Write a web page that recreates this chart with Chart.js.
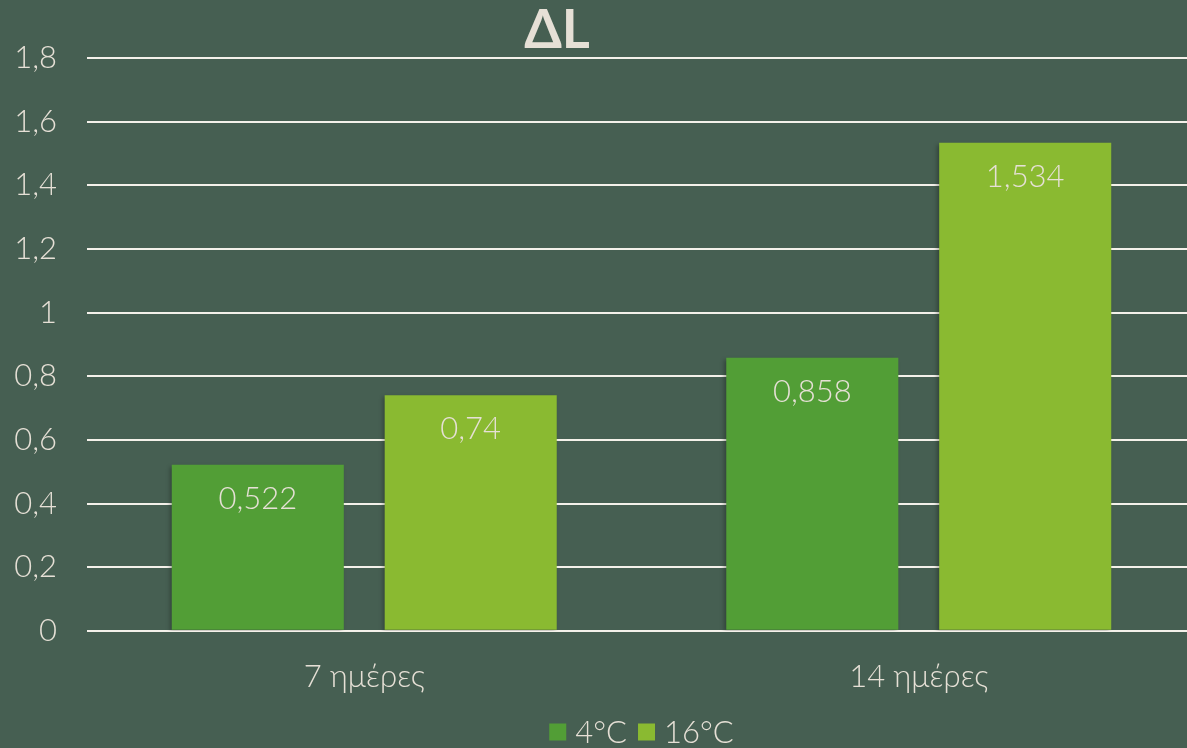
<!DOCTYPE html>
<html>
<head>
<meta charset="utf-8">
<script src="https://cdn.jsdelivr.net/npm/chart.js@4/dist/chart.umd.min.js"></script>
<style>
html,body{margin:0;padding:0;background:#465f52;overflow:hidden;width:1187px;height:748px;}
canvas{display:block;}
</style>
</head>
<body>
<canvas id="c" width="1200" height="748"></canvas>
<script>
const categories = ["7 ημέρες", "14 ημέρες"];
const seriesNames = ["4°C", "16°C"];
const values4C = [0.522, 0.858];
const values16C = [0.74, 1.534];
const yTicks = [0, 0.2, 0.4, 0.6, 0.8, 1, 1.2, 1.4, 1.6, 1.8];
const titleText = "ΔL";

const TEXT = "#e6e0d6";
const FONT = "Lato, 'Open Sans', sans-serif";
const FS = 31;
const fmt = v => String(Math.round(v * 1000) / 1000).replace('.', ',');

const shadowPlugin = {
  id: 'barShadow',
  beforeDatasetsDraw(chart) {
    const ctx = chart.ctx;
    ctx.save();
    ctx.shadowColor = 'rgba(0,0,0,0.28)';
    ctx.shadowBlur = 4;
    ctx.shadowOffsetX = -2;
    ctx.shadowOffsetY = 2;
  },
  afterDatasetsDraw(chart) {
    chart.ctx.restore();
    const ctx = chart.ctx;
    ctx.save();
    ctx.fillStyle = TEXT;
    ctx.font = "300 " + FS + "px " + FONT;
    ctx.textAlign = 'center';
    ctx.textBaseline = 'middle';
    chart.data.datasets.forEach((ds, i) => {
      chart.getDatasetMeta(i).data.forEach((bar, j) => {
        ctx.fillText(fmt(ds.data[j]), bar.x, bar.y + 34);
      });
    });
    ctx.restore();
  }
};

const titleLegendPlugin = {
  id: 'titleLegend',
  afterDraw(chart) {
    const ctx = chart.ctx;
    const ca = chart.chartArea;
    ctx.save();
    ctx.fillStyle = TEXT;
    ctx.font = "bold 54px " + FONT;
    ctx.textAlign = 'center';
    ctx.textBaseline = 'middle';
    ctx.fillText(titleText, 557, 31);
    // legend
    ctx.font = "300 " + FS + "px " + FONT;
    const box = 17, gapBox = 9, gapItem = 11;
    const items = chart.data.datasets.map(ds => ({label: ds.label, color: ds.backgroundColor, w: ctx.measureText(ds.label).width}));
    let total = 0;
    items.forEach((it, k) => { total += box + gapBox + it.w + (k < items.length - 1 ? gapItem : 0); });
    let x = (ca.left + ca.right) / 2 - total / 2;
    const y = 732;
    ctx.textAlign = 'left';
    items.forEach(it => {
      ctx.fillStyle = it.color;
      ctx.fillRect(x, y - box / 2, box, box);
      x += box + gapBox;
      ctx.fillStyle = TEXT;
      ctx.fillText(it.label, x, y + 1);
      x += it.w + gapItem;
    });
    ctx.restore();
  }
};

new Chart(document.getElementById('c'), {
  type: 'bar',
  data: {
    labels: categories,
    datasets: [
      {label: seriesNames[0], data: values4C, backgroundColor: '#529e36'},
      {label: seriesNames[1], data: values16C, backgroundColor: '#8aba31'}
    ]
  },
  options: {
    responsive: false,
    animation: false,
    devicePixelRatio: 1,
    layout: {padding: {top: 58, left: 0, right: 4, bottom: 24}},
    plugins: {legend: {display: false}, title: {display: false}, tooltip: {enabled: false}},
    datasets: {bar: {categoryPercentage: 0.768, barPercentage: 0.808}},
    scales: {
      x: {
        grid: {display: false, drawTicks: false},
        border: {display: false},
        ticks: {color: TEXT, font: {family: FONT, size: FS, weight: 300}, padding: 28}
      },
      y: {
        min: 0, max: 1.8,
        afterBuildTicks(axis) { axis.ticks = yTicks.map(v => ({value: v})); },
        afterFit(axis) { axis.width = 87; },
        grid: {color: '#f4f1ea', lineWidth: 2, drawTicks: false},
        border: {display: false},
        ticks: {color: TEXT, font: {family: FONT, size: FS, weight: 300}, padding: 30, callback: v => fmt(v)}
      }
    }
  },
  plugins: [shadowPlugin, titleLegendPlugin]
});
</script>
</body>
</html>
